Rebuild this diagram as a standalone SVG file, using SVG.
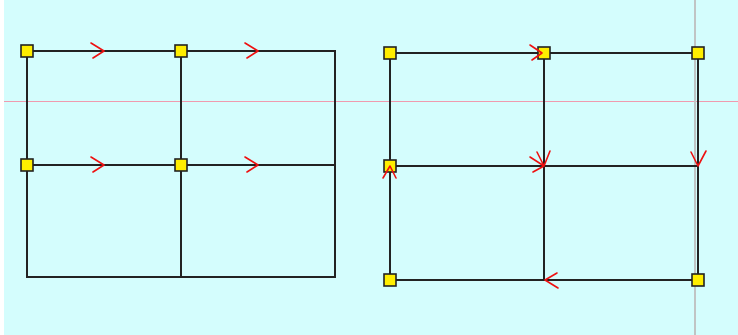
<svg xmlns="http://www.w3.org/2000/svg" width="738" height="335" viewBox="0 0 738 335">
<style>
.bg{fill:#d4fdfd}
.guide-h{stroke:#f09aae;stroke-width:1}
.guide-v{stroke:#c0c4c4;stroke-width:2}
.edge{stroke:#222;stroke-width:2;fill:none}
.arr{stroke:#ee1111;stroke-width:1.6;fill:none;stroke-linecap:round;stroke-linejoin:round}
.node{fill:#ffee00;stroke:#222;stroke-width:1.6}
</style>
<rect x="0" y="0" width="738" height="335" fill="#ffffff"/>
<rect class="bg" x="4" y="0" width="734" height="335"/>
<line class="guide-h" x1="4" y1="101.5" x2="738" y2="101.5"/>
<line class="guide-v" x1="695" y1="0" x2="695" y2="335"/>
<g id="connectors">
  <path class="edge" d="M27 51H335V277H27Z M181 51V277 M27 165H335"/>
  <path class="edge" d="M390 53H698V280H390Z M544 53V280 M390 166H698"/>
</g>
<g id="n1"><rect class="node" x="21" y="45" width="12" height="12"/></g>
<g id="n2"><rect class="node" x="175" y="45" width="12" height="12"/></g>
<g id="n3"><rect class="node" x="21" y="159" width="12" height="12"/></g>
<g id="n4"><rect class="node" x="175" y="159" width="12" height="12"/></g>
<g id="n5"><rect class="node" x="384" y="47" width="12" height="12"/></g>
<g id="n6"><rect class="node" x="538" y="47" width="12" height="12"/></g>
<g id="n7"><rect class="node" x="692" y="47" width="12" height="12"/></g>
<g id="n8"><rect class="node" x="384" y="160" width="12" height="12"/></g>
<g id="n9"><rect class="node" x="384" y="274" width="12" height="12"/></g>
<g id="n10"><rect class="node" x="692" y="274" width="12" height="12"/></g>
<g id="arrowheads">
  <path class="arr" d="M91 43L104 51L93 58 M245 43L258 51L247 58 M91 157L104 165L93 172 M245 157L258 165L247 172"/>
  <path class="arr" d="M530 45L542 53L532 60"/>
  <path class="arr" d="M530 157L544 166L533 172 M537 152L544 166L550 151"/>
  <path class="arr" d="M691 152L698 166L706 151"/>
  <path class="arr" d="M383 178L390 166L396 178"/>
  <path class="arr" d="M557 273L545 280L558 288"/>
</g>
</svg>
